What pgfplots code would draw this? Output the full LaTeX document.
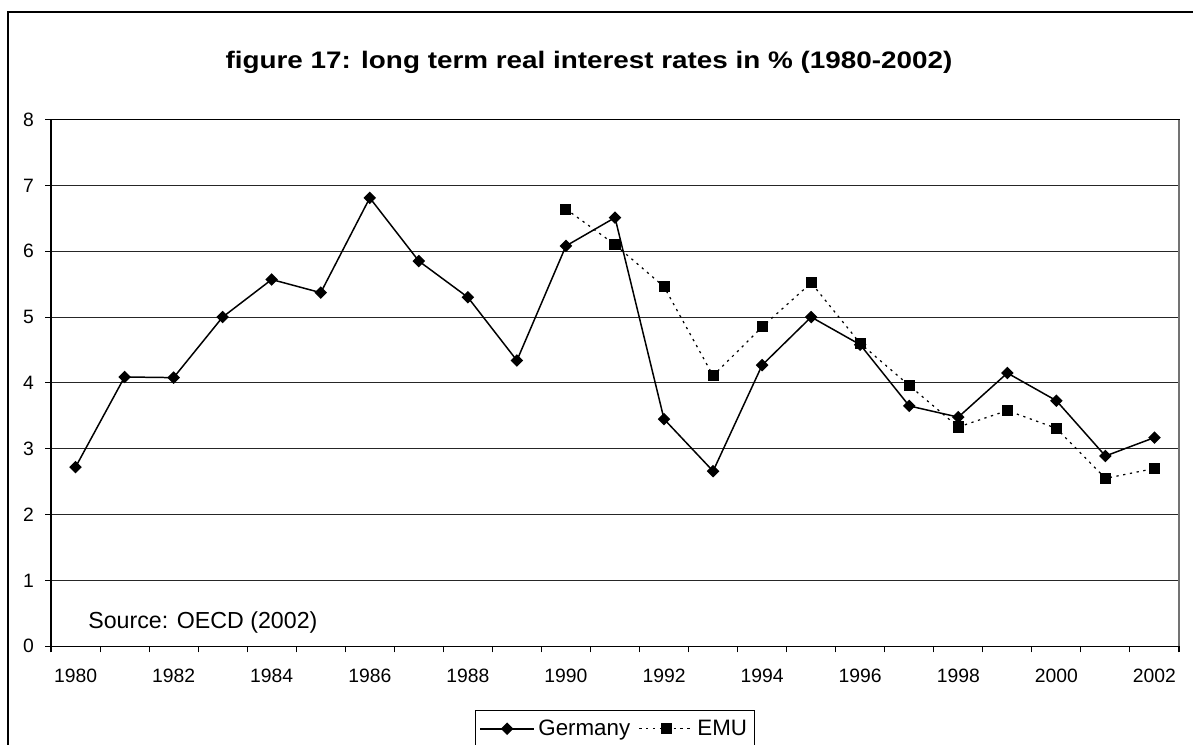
\documentclass[border=0pt]{standalone}
\usepackage{fontspec}
\setmainfont{Liberation Sans}
\usepackage{pgfplots}
\pgfplotsset{compat=1.18}

% Germany and EMU, long term real interest rates (%), x = year - 1980
\pgfplotstableread{
x   y
0   2.72
1   4.09
2   4.08
3   5.00
4   5.57
5   5.37
6   6.81
7   5.85
8   5.30
9   4.34
10  6.08
11  6.51
12  3.45
13  2.66
14  4.27
15  5.00
16  4.58
17  3.65
18  3.48
19  4.15
20  3.73
21  2.89
22  3.17
}\germany

\pgfplotstableread{
x   y
10  6.64
11  6.10
12  5.46
13  4.11
14  4.85
15  5.52
16  4.60
17  3.96
18  3.33
19  3.58
20  3.31
21  2.55
22  2.70
}\emu

\begin{document}
\begin{tikzpicture}
  \useasboundingbox (0,0) rectangle (23.86,14.9);
  \clip (0,0) rectangle (23.86,14.9);
  % outer chart frame (right and bottom lie outside the picture)
  \draw[black, line width=0.9pt] (0.16,-1) -- (0.16,14.66) -- (25,14.66);

  \node[font=\bfseries\fontsize{13.6}{16}\selectfont, anchor=base, inner sep=0pt]
    at (11.78,13.52)
    {\scalebox{1.165}[1]{figure 17: long term real interest rates in \% (1980-2002)}};

  \begin{axis}[
    at={(1.02cm,1.974cm)}, anchor=south west,
    scale only axis,
    width=22.56cm, height=10.536cm,
    xmin=-0.5, xmax=22.5,
    ymin=0, ymax=8,
    xtick={-0.5,0.5,...,22.5},
    xticklabels={},
    extra x ticks={0,2,...,22},
    extra x tick labels={1980,1982,1984,1986,1988,1990,1992,1994,1996,1998,2000,2002},
    extra x tick style={major tick length=0pt, grid=none},
    ytick={0,1,...,8},
    tick pos=left,
    xtick align=outside,
    ytick align=outside,
    major tick length=0.12cm,
    tick style={black, line width=0.6pt},
    ymajorgrids,
    grid style={black!85, line width=0.6pt},
    axis line style={black, line width=0.6pt},
    /pgf/number format/assume math mode=true,
    tick label style={font=\fontsize{11}{13}\selectfont},
    xticklabel style={yshift=-0.33cm},
    yticklabel style={xshift=-0.1cm},
    legend columns=2,
    legend style={at={(0.5,-0.1216)}, anchor=north, draw=black,
      line width=0.6pt, font=\fontsize{12.7}{15}\selectfont,
      inner xsep=2pt, inner ysep=3pt,
      /tikz/every even column/.append style={column sep=0.1cm}},
    legend image code/.code={
      \draw[mark repeat=2, mark phase=2, #1]
        plot coordinates {(0cm,0cm) (0.54cm,0cm) (1.08cm,0cm)};},
    clip=false,
  ]
    \addplot[black, line width=0.85pt, mark=square*,
      mark options={rotate=45, solid}, mark size=2.1pt]
      table[x=x, y=y] {\germany};
    \addlegendentry{Germany}

    \addplot[black, line width=0.7pt, dash pattern=on 1.3pt off 2.6pt,
      mark=square*, mark options={solid}, mark size=2.8pt]
      table[x=x, y=y] {\emu};
    \addlegendentry{EMU}

    \draw[black!55, line width=1.2pt]
      (rel axis cs:1,0) -- (rel axis cs:1,1);

    \node[anchor=base west, inner sep=0pt, font=\fontsize{13.2}{15}\selectfont]
      at (rel axis cs:0.0328,0.0347) {Source: OECD (2002)};
  \end{axis}
\end{tikzpicture}
\end{document}
